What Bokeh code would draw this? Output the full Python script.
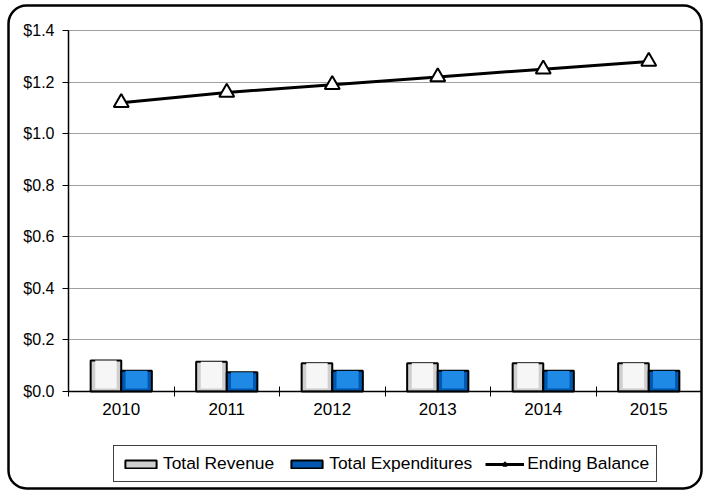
import numpy as np
from bokeh.plotting import figure
from bokeh.models import (ColumnDataSource, FixedTicker, NumeralTickFormatter,
                          Legend, LegendItem, Range1d, BoxAnnotation, Grid)
from bokeh.embed import file_html
from bokeh.resources import INLINE

# Fiscal data (billions of dollars)
years = ["2010", "2011", "2012", "2013", "2014", "2015"]
total_revenue = [0.12, 0.115, 0.11, 0.11, 0.11, 0.11]
total_expenditures = [0.08, 0.075, 0.08, 0.08, 0.08, 0.08]
ending_balance = [1.12, 1.16, 1.19, 1.22, 1.25, 1.28]
y_ticks = [0.0, 0.2, 0.4, 0.6, 0.8, 1.0, 1.2, 1.4]

FONT = "Liberation Sans"
n = len(years)
y_max = 1.4
centers = np.arange(n) + 0.5
bar_w = 0.29

# Canvas geometry: the plot frame fills the whole canvas, and the
# data area sits inside it, leaving room for labels and the legend.
W, H = 707, 492
area_left, area_right, area_top, area_bottom = 68, 701, 30, 391
x_scale = (area_right - area_left) / n
y_scale = (area_bottom - area_top) / y_max
x_rng = Range1d(-area_left / x_scale, n + (W - area_right) / x_scale)
y_rng = Range1d(-(H - area_bottom) / y_scale, y_max + area_top / y_scale)

p = figure(width=W, height=H, output_backend="svg", toolbar_location=None,
           x_range=x_rng, y_range=y_rng, min_border=0)
p.title.visible = False
p.background_fill_color = "white"
p.border_fill_color = "white"
p.outline_line_color = None

src = ColumnDataSource(dict(
    xc=centers,
    xr=centers - bar_w / 2,
    xe=centers + bar_w / 2,
    rev=total_revenue,
    exp=total_expenditures,
    bal=ending_balance,
))

# Horizontal gridlines limited to the data area
p.xgrid.visible = False
p.ygrid.grid_line_color = "#a0a0a0"
p.ygrid.grid_line_width = 1
if "cross_bounds" in Grid.properties():
    p.ygrid.cross_bounds = (0, n)
else:
    p.ygrid.visible = False
    p.segment(x0=0, x1=n, y0=y_ticks, y1=y_ticks, line_color="#a0a0a0",
              line_width=1, level="underlay")

# Gray outline of the data area (top and right edges show)
p.add_layout(BoxAnnotation(left=0, right=n, bottom=0, top=y_max,
                           fill_alpha=0, line_color="#a0a0a0", line_alpha=1,
                           line_width=1, level="underlay"))

# Revenue bars: light bevel frame with a whiter face
rev = p.vbar(x="xr", top="rev", bottom=0, width=bar_w, source=src,
             fill_color="#cfcfcf", line_color="black", line_width=2)
p.vbar(x="xr", top="rev", bottom=0.012, width=bar_w * 0.7, source=src,
       fill_color="#f6f6f6", line_color=None)

# Expenditure bars: blue with a lighter centre band
exp = p.vbar(x="xe", top="exp", bottom=0, width=bar_w, source=src,
             fill_color="#0058b0", line_color="black", line_width=2)
p.vbar(x="xe", top="exp", bottom=0.012, width=bar_w * 0.72, source=src,
       fill_color="#1e8ae6", line_color=None)

# Ending balance line with triangle markers
ln = p.line(x="xc", y="bal", source=src, line_color="black", line_width=3)
mk = p.scatter(x="xc", y="bal", source=src, marker="triangle", size=15,
               fill_color="white", line_color="black", line_width=2)

# Y axis pinned at x = 0
p.yaxis.fixed_location = 0
p.yaxis.bounds = (0, y_max)
p.yaxis.ticker = FixedTicker(ticks=y_ticks)
p.yaxis.formatter = NumeralTickFormatter(format="$0.0")
p.yaxis.minor_tick_line_color = None
p.yaxis.major_tick_in = 0
p.yaxis.major_tick_out = 6
p.yaxis.axis_line_width = 1.5
p.yaxis.axis_line_color = "black"
p.yaxis.major_tick_line_color = "black"
p.yaxis.major_label_text_font = FONT
p.yaxis.major_label_text_font_size = "16px"
p.yaxis.major_label_text_color = "black"
p.yaxis.major_label_standoff = 8

# X axis pinned at y = 0, ticks between the years
p.xaxis.fixed_location = 0
p.xaxis.bounds = (0, n)
p.xaxis.ticker = FixedTicker(ticks=list(centers), minor_ticks=list(range(n + 1)))
p.xaxis.major_label_overrides = {float(c): y for c, y in zip(centers, years)}
p.xaxis.major_tick_line_color = None
p.xaxis.minor_tick_in = 5
p.xaxis.minor_tick_out = 5
p.xaxis.minor_tick_line_color = "black"
p.xaxis.minor_tick_line_width = 1
p.xaxis.axis_line_width = 1.5
p.xaxis.axis_line_color = "black"
p.xaxis.major_label_text_font = FONT
p.xaxis.major_label_text_font_size = "17px"
p.xaxis.major_label_text_color = "black"
p.xaxis.major_label_standoff = 5

# Legend along the bottom
legend = Legend(items=[
    LegendItem(label="Total Revenue", renderers=[rev]),
    LegendItem(label="Total Expenditures", renderers=[exp]),
    LegendItem(label="Ending Balance", renderers=[ln, mk]),
], orientation="horizontal", location=(113, 10))
legend.glyph_width = 39
legend.glyph_height = 10
legend.label_standoff = 3
legend.spacing = 13
legend.padding = 7
legend.margin = 0
legend.label_height = 16
legend.label_text_font = FONT
legend.label_text_font_size = "17.4px"
legend.label_text_color = "black"
legend.border_line_color = "#404040"
legend.border_line_width = 1
legend.border_line_alpha = 1
legend.background_fill_alpha = 1
p.add_layout(legend, "center")

# Rounded black frame around the whole chart
p.add_layout(BoxAnnotation(left=8, right=701, top=5, bottom=488,
                           left_units="canvas", right_units="canvas",
                           top_units="canvas", bottom_units="canvas",
                           fill_alpha=0, line_color="black", line_alpha=1,
                           line_width=2.5, border_radius=18, level="overlay"))

open("out.html", "w").write(file_html(p, INLINE))
